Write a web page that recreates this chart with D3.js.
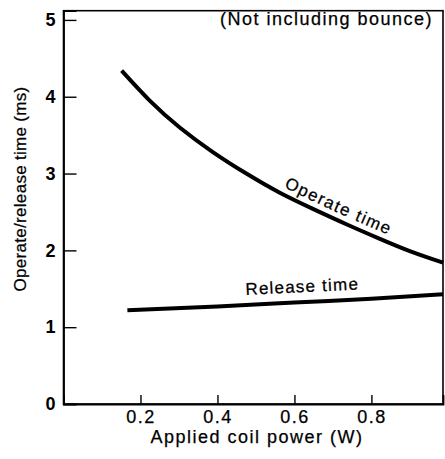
<!DOCTYPE html>
<html>
<head>
<meta charset="utf-8">
<script src="https://cdn.jsdelivr.net/npm/d3@7"></script>
<style>
  body { margin: 0; background: #fff; }
  text { font-family: "Liberation Sans", Arial, sans-serif; fill: #000; }
  .ink { stroke: #000; stroke-width: 0.25px; }
</style>
</head>
<body>
<svg id="chart" width="445" height="459"></svg>
<script>
// values
const operatePower = [0.151, 0.224, 0.302, 0.388, 0.475, 0.562, 0.648, 0.735, 0.822, 0.905, 0.986]
const operateTime  = [4.34, 3.95, 3.60, 3.28, 3.00, 2.75, 2.54, 2.34, 2.15, 1.98, 1.84]
const releasePower = [0.166, 0.4, 0.6, 0.8, 0.986]
const releaseTime  = [1.22, 1.27, 1.32, 1.37, 1.43]
const xTicks = [0.2, 0.4, 0.6, 0.8]
const yTicks = [0, 1, 2, 3, 4, 5]

const svg = d3.select("#chart")

let x = d3.scaleLinear().domain([0, 0.986]).range([63.5, 443])
let y = d3.scaleLinear().domain([0, 5.12]).range([404, 10.7])

// frame
svg.append("rect")
    .attr("x", x(0)).attr("y", y(5.12))
    .attr("width", x(0.986) - x(0)).attr("height", y(0) - y(5.12))
    .attr("fill", "none").attr("stroke", "#000").attr("stroke-width", 1.6)

// y axis, ticks pointing inward
let yAxis = svg.append("g")
    .attr("transform", `translate(${x(0)},0)`)
    .call(d3.axisLeft(y).tickValues(yTicks).tickSize(-13).tickPadding(8).tickFormat(d3.format("d")))
yAxis.select(".domain").attr("stroke-width", 1.8)
yAxis.selectAll(".tick line").attr("stroke-width", 1.4)
yAxis.selectAll(".tick").filter(d => d === 0).select("line").remove()
yAxis.selectAll("text").attr("font-size", 18).attr("font-weight", "bold")
    .style("font-family", "Liberation Sans, Arial, sans-serif")

// x axis
let xAxis = svg.append("g")
    .attr("transform", `translate(0,${y(0)})`)
    .call(d3.axisBottom(x).tickValues(xTicks).tickSize(-9).tickPadding(6).tickFormat(d3.format(".1f")))
xAxis.select(".domain").attr("stroke-width", 1.8)
xAxis.selectAll(".tick line").attr("stroke-width", 1.4)
xAxis.selectAll("text").attr("font-size", 18).attr("letter-spacing", 1.5)
    .attr("class", "ink")
    .style("font-family", "Liberation Sans, Arial, sans-serif")

// axis titles
svg.append("text").attr("class", "ink")
    .attr("x", 257).attr("y", 443)
    .attr("text-anchor", "middle").attr("font-size", 18).attr("letter-spacing", 1.5)
    .text("Applied coil power (W)")

svg.append("text").attr("class", "ink")
    .attr("transform", "translate(26,189) rotate(-90)")
    .attr("text-anchor", "middle").attr("font-size", 17).attr("letter-spacing", 0.3)
    .text("Operate/release time (ms)")

svg.append("text").attr("class", "ink")
    .attr("x", 433).attr("y", 25)
    .attr("text-anchor", "end").attr("font-size", 18).attr("letter-spacing", 1.5)
    .text("(Not including bounce)")

// curves
let line = d3.line().x(d => x(d[0])).y(d => y(d[1])).curve(d3.curveNatural)
let operate = d3.zip(operatePower, operateTime)
let release = d3.zip(releasePower, releaseTime)

svg.append("path").attr("id", "op-path").attr("d", line(operate))
    .attr("fill", "none").attr("stroke", "#000").attr("stroke-width", 4)
svg.append("path").attr("id", "rel-path").attr("d", line(release))
    .attr("fill", "none").attr("stroke", "#000").attr("stroke-width", 4)

// find path length at a given x pixel
function lengthAtX(node, px) {
    let lo = 0, hi = node.getTotalLength()
    for (let i = 0; i < 40; i++) {
        let mid = (lo + hi) / 2
        if (node.getPointAtLength(mid).x < px) lo = mid
        else hi = mid
    }
    return lo
}

function pathLabel(id, label, centerX, dy, size, spacing) {
    let node = document.getElementById(id)
    let off = lengthAtX(node, centerX)
    svg.append("text").attr("class", "ink").attr("font-size", size).attr("dy", dy)
        .attr("letter-spacing", spacing)
        .append("textPath").attr("href", "#" + id)
        .attr("startOffset", off).attr("text-anchor", "middle")
        .text(label)
}

pathLabel("op-path", "Operate time", 333, -7, 17, 1.5)
pathLabel("rel-path", "Release time", 303, -10, 17, 1.2)
</script>
</body>
</html>
